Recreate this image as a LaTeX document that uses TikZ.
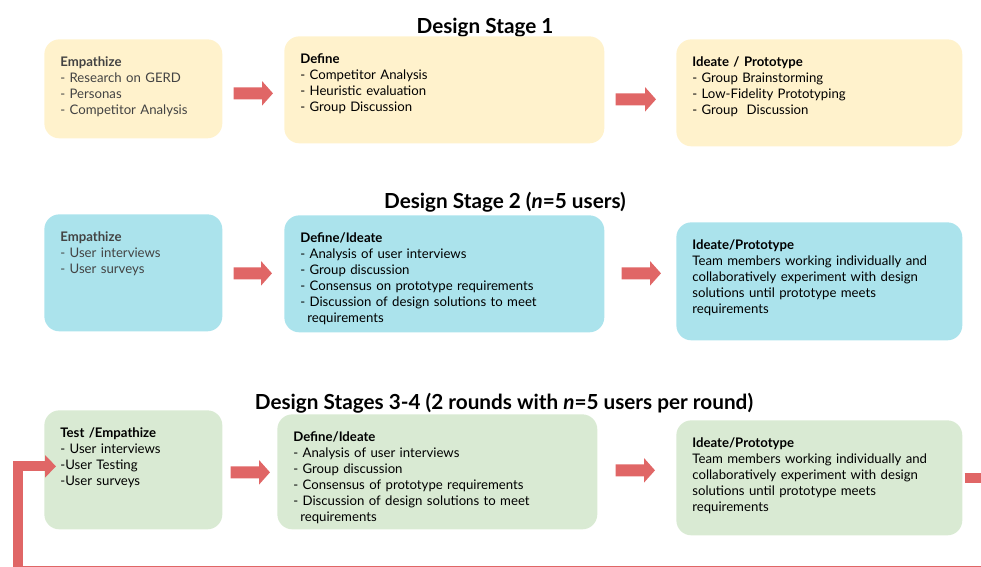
\documentclass[tikz,border=0pt]{standalone}
\usepackage{fontspec}
\setmainfont{Lato}
\usepackage{tikz}
\usetikzlibrary{arrows.meta}
\definecolor{boxyellow}{HTML}{FFF2CC}
\definecolor{boxcyan}{HTML}{ABE3EC}
\definecolor{boxgreen}{HTML}{D9EAD3}
\definecolor{arrowred}{HTML}{E06666}
\definecolor{softgray}{HTML}{434343}
\tikzset{
  stagebox/.style={ rounded corners=0.3cm, anchor=north west, align=left, inner xsep=0.32cm, inner ysep=0.16cm, text height=0.39cm, font=\fontsize{7.5}{9.1}\selectfont }
}
\tikzset{
  boxY/.style={ stagebox, fill=boxyellow }
}
\tikzset{
  boxC/.style={ stagebox, fill=boxcyan }
}
\tikzset{
  boxG/.style={ stagebox, fill=boxgreen }
}
\tikzset{
  stagetitle/.style={ anchor=base, font=\bfseries\fontsize{11.8}{14}\selectfont }
}
\tikzset{
  stagearrow/.style={ draw=arrowred, line width=0.24cm, -{Triangle[length=0.22cm, width=0.48cm]} }
}
\tikzset{
  looparrow/.style={ draw=arrowred, line width=0.2cm, -{Triangle[length=0.22cm, width=0.44cm]} }
}

\begin{document}
\begin{tikzpicture}[x=0.02cm, y=-0.02cm]
  \useasboundingbox (0,0) rectangle (981,567);

  % stage 1
  \node[stagetitle] (title1) at (485,34) {Design Stage 1};
  \node[boxY, text width=2.92cm, text depth=1.27cm, text=softgray] (emp1) at (44,39)
    {\textbf{Empathize}\\- Research on GERD\\- Personas\\- Competitor Analysis};
  \node[boxY, text width=5.76cm, text depth=1.43cm] (def1) at (284,36)
    {\textbf{Define}\\- Competitor Analysis\\- Heuristic evaluation\\- Group Discussion};
  \node[boxY, text width=5.08cm, text depth=1.43cm] (ide1) at (676,39)
    {\textbf{Ideate / Prototype}\\- Group Brainstorming\\- Low-Fidelity Prototyping\\- Group\ \ Discussion};
  \draw[stagearrow] ([xshift=0.22cm, yshift=-0.09cm]emp1.east) -- ([xshift=-0.22cm, yshift=-0.07cm]def1.west);
  \draw[stagearrow] ([xshift=0.22cm, yshift=-0.19cm]def1.east) -- ([xshift=-0.4cm, yshift=-0.13cm]ide1.west);

  % stage 2
  \node[stagetitle] (title2) at (505,209) {Design Stage 2 (\textit{n}=5 users)};
  \node[boxC, text width=2.92cm, text depth=1.63cm, text=softgray] (emp2) at (44,214)
    {\textbf{Empathize}\\- User interviews\\- User surveys};
  \node[boxC, text width=5.76cm, text depth=1.63cm] (def2) at (284,215)
    {\textbf{Define/Ideate}\\- Analysis of user interviews\\- Group discussion\\- Consensus on prototype requirements\\- Discussion of design solutions to meet\\\hspace*{0.14cm}requirements};
  \node[boxC, text width=5.08cm, text depth=1.65cm] (ide2) at (676,222)
    {\textbf{Ideate/Prototype}\\Team members working individually and\\collaboratively experiment with design\\solutions until prototype meets\\requirements};
  \draw[stagearrow] ([xshift=0.22cm, yshift=-0.01cm]emp2.east) -- ([xshift=-0.24cm, yshift=0.01cm]def2.west);
  \draw[stagearrow] ([xshift=0.34cm, yshift=0.01cm]def2.east) -- ([xshift=-0.3cm, yshift=0.16cm]ide2.west);

  % stages 3-4
  \node[stagetitle] (title3) at (504,410) {Design Stages 3-4 (2 rounds with \textit{n}=5 users per round)};
  \node[boxG, text width=2.92cm, text depth=1.67cm] (emp3) at (44,410)
    {\textbf{Test /Empathize}\\- User interviews\\-User Testing\\-User surveys};
  \node[boxG, text width=5.76cm, text depth=1.59cm] (def3) at (277,414)
    {\textbf{Define/Ideate}\\- Analysis of user interviews\\- Group discussion\\- Consensus of prototype requirements\\- Discussion of design solutions to meet\\\hspace*{0.14cm}requirements};
  \node[boxG, text width=5.08cm, text depth=1.59cm] (ide3) at (676,420)
    {\textbf{Ideate/Prototype}\\Team members working individually and\\collaboratively experiment with design\\solutions until prototype meets\\requirements};
  \draw[stagearrow] ([xshift=0.16cm, yshift=-0.05cm]emp3.east) -- ([xshift=-0.14cm, yshift=-0.01cm]def3.west);
  \draw[stagearrow] ([xshift=0.36cm, yshift=0.03cm]def3.east) -- ([xshift=-0.42cm, yshift=0.15cm]ide3.west);

  % loop back to testing
  \coordinate (loopr) at (1000,571);
  \coordinate (loopl) at (18,571);
  \draw[looparrow] ([xshift=0.04cm]ide3.east) -| (loopr) -- (loopl) |- ([xshift=0.24cm, yshift=0.07cm]emp3.west);
\end{tikzpicture}
\end{document}
